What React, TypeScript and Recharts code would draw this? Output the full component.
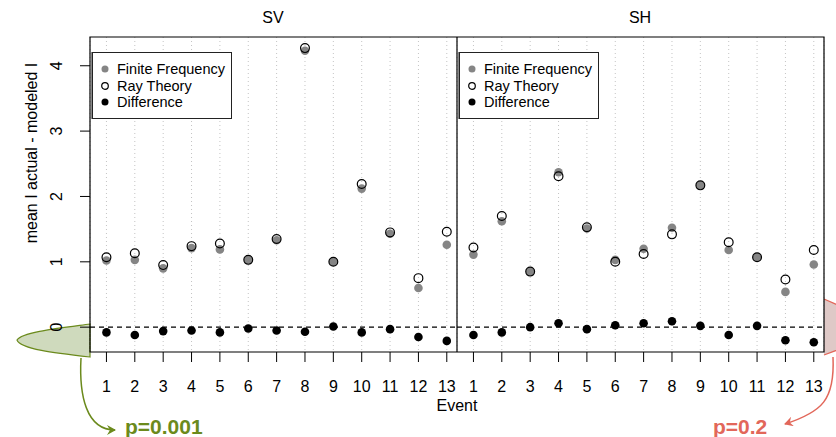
import React from 'react';
import { ScatterChart, Scatter, XAxis, YAxis, CartesianGrid, ReferenceLine, ReferenceArea } from 'recharts';

const events = [1, 2, 3, 4, 5, 6, 7, 8, 9, 10, 11, 12, 13];

// SV panel
const svFinite = [1.02, 1.03, 0.9, 1.21, 1.19, 1.03, 1.33, 4.23, 1.0, 2.12, 1.43, 0.6, 1.26];
const svRay = [1.07, 1.13, 0.95, 1.24, 1.28, 1.03, 1.35, 4.27, 1.0, 2.19, 1.45, 0.75, 1.46];
const svDiff = [-0.08, -0.12, -0.06, -0.05, -0.08, -0.02, -0.05, -0.07, 0.01, -0.08, -0.03, -0.15, -0.21];

// SH panel
const shFinite = [1.11, 1.62, 0.85, 2.37, 1.51, 1.03, 1.2, 1.52, 2.17, 1.18, 1.07, 0.54, 0.96];
const shRay = [1.22, 1.7, 0.85, 2.31, 1.53, 1.0, 1.12, 1.42, 2.17, 1.3, 1.07, 0.73, 1.18];
const shDiff = [-0.12, -0.08, 0.0, 0.06, -0.03, 0.03, 0.06, 0.09, 0.02, -0.12, 0.02, -0.2, -0.23];

const yTicks = [0, 1, 2, 3, 4];
const legendItems = ['Finite Frequency', 'Ray Theory', 'Difference'];

const X_DOMAIN: [number, number] = [0.42, 13.36];
const Y_DOMAIN: [number, number] = [-0.38, 4.44];
const FONT = '"Liberation Sans", Arial, Helvetica, sans-serif';
const GREEN = '#6b8a1c';
const RED = '#e2675a';

const toPoints = (vals: number[]) => events.map((e, i) => ({ event: e, value: vals[i] }));

const greyDot = (p: any) => <circle cx={p.cx} cy={p.cy} r={4.3} fill="#858585" />;
const openDot = (p: any) => <circle cx={p.cx} cy={p.cy} r={4.4} fill="none" stroke="#000" strokeWidth={1.2} />;
const blackDot = (p: any) => <circle cx={p.cx} cy={p.cy} r={4.3} fill="#000" />;

const YTick = ({ x, y, payload }: any) => (
  <text transform={`translate(${x - 16},${y}) rotate(-90)`} textAnchor="middle" fontSize={16} fill="#000" fontFamily={FONT}>
    {payload.value}
  </text>
);

const LegendBox = ({ left }: { left: number }) => (
  <div
    style={{
      position: 'absolute', left, top: 52, width: 140, height: 67, background: '#fff',
      border: '1px solid #222', boxShadow: '-1px 0 0 #888', boxSizing: 'border-box', fontFamily: FONT, fontSize: 14.5,
      paddingTop: 8, paddingLeft: 8,
    }}
  >
    {legendItems.map((name, i) => (
      <div key={name} style={{ height: 16.5, lineHeight: '16.5px', display: 'flex', alignItems: 'center' }}>
        <svg width={16} height={12} style={{ marginRight: 8 }}>
          {i === 0 && <circle cx={4} cy={6} r={3.5} fill="#858585" />}
          {i === 1 && <circle cx={4} cy={6} r={3.3} fill="none" stroke="#000" strokeWidth={1.2} />}
          {i === 2 && <circle cx={4} cy={6} r={3.5} fill="#000" />}
        </svg>
        <span style={{ marginLeft: -8 }}>{name}</span>
      </div>
    ))}
  </div>
);

interface PanelProps {
  finite: number[];
  ray: number[];
  diff: number[];
  left: number;
  width: number;
  showY: boolean;
  rightMargin: number;
}

const Panel: React.FC<PanelProps> = ({ finite, ray, diff, left, width, showY, rightMargin }) => (
  <div style={{ position: 'absolute', left, top: 0 }}>
    <ScatterChart width={width} height={437} margin={{ top: 37, right: rightMargin, bottom: 0, left: 0 }}>
      <CartesianGrid horizontal={false} stroke="#c4c4c4" strokeDasharray="1 3" />
      <XAxis
        type="number"
        dataKey="event"
        domain={X_DOMAIN}
        ticks={events}
        interval={0}
        allowDataOverflow
        axisLine={false}
        tickSize={10}
        tickMargin={19}
        height={85}
        tickLine={{ stroke: '#000' }}
        tick={{ fill: '#000', fontSize: 16, fontFamily: FONT }}
      />
      <YAxis
        type="number"
        dataKey="value"
        domain={Y_DOMAIN}
        ticks={yTicks}
        allowDataOverflow
        hide={!showY}
        width={90}
        axisLine={false}
        tickSize={10}
        tickLine={{ stroke: '#000' }}
        tick={<YTick />}
      />
      <ReferenceArea x1={X_DOMAIN[0]} x2={X_DOMAIN[1]} y1={Y_DOMAIN[0]} y2={Y_DOMAIN[1]} fill="none" stroke="#000" strokeWidth={1.2} fillOpacity={0} />
      <ReferenceLine y={0} stroke="#000" strokeDasharray="5 4" strokeWidth={1.1} />
      <Scatter data={toPoints(finite)} shape={greyDot} isAnimationActive={false} />
      <Scatter data={toPoints(ray)} shape={openDot} isAnimationActive={false} />
      <Scatter data={toPoints(diff)} shape={blackDot} isAnimationActive={false} />
    </ScatterChart>
  </div>
);

export default function App() {
  return (
    <div style={{ position: 'absolute', left: 0, top: 0, width: 836, height: 437, background: '#fff', fontFamily: FONT, overflow: 'hidden' }}>
      <svg width={836} height={437} style={{ position: 'absolute', left: 0, top: 0 }}>
        <defs>
          <marker id="arrG" markerWidth="10" markerHeight="10" refX="8" refY="5" orient="auto" markerUnits="userSpaceOnUse">
            <path d="M0,0 L9,5 L0,10 L3,5 Z" fill={GREEN} />
          </marker>
          <marker id="arrR" markerWidth="10" markerHeight="10" refX="8" refY="5" orient="auto" markerUnits="userSpaceOnUse">
            <path d="M0,0 L9,5 L0,10 L3,5 Z" fill={RED} />
          </marker>
        </defs>
        {/* titles and axis labels */}
        <text x={273} y={23} textAnchor="middle" fontSize={16}>SV</text>
        <text x={640} y={23} textAnchor="middle" fontSize={16}>SH</text>
        <text x={457} y={411} textAnchor="middle" fontSize={16}>Event</text>
        <text transform="translate(37,153) rotate(-90)" textAnchor="middle" fontSize={16}>mean I actual - modeled I</text>
        {/* significance annotations */}
        <path d="M90,324 C60,328 22,332 17,340 C20,349 55,353 90,357 Z" fill="#cfdabd" stroke={GREEN} strokeWidth={1.2} />
        <path d="M81,358 C79,395 86,430 115,430" fill="none" stroke={GREEN} strokeWidth={1.5} markerEnd="url(#arrG)" />
        <text x={125} y={434} fontSize={21} fontWeight="bold" fill={GREEN}>p=0.001</text>
        <path d="M824,299 L840,306 L840,349 L824,355 Z" fill="#dfc9c7" stroke="none" />
        <path d="M824,299 L840,306 M824,355 L840,349" fill="none" stroke={RED} strokeWidth={1.2} />
        <path d="M833,357 C835,400 822,412 785,424" fill="none" stroke={RED} strokeWidth={1.5} markerEnd="url(#arrR)" />
        <text x={713} y={434} fontSize={21} fontWeight="bold" fill={RED}>p=0.2</text>
      </svg>
      <Panel finite={svFinite} ray={svRay} diff={svDiff} left={0} width={457} showY rightMargin={0} />
      <Panel finite={shFinite} ray={shRay} diff={shDiff} left={457} width={379} showY={false} rightMargin={12} />
      <LegendBox left={92} />
      <LegendBox left={459} />
    </div>
  );
}
